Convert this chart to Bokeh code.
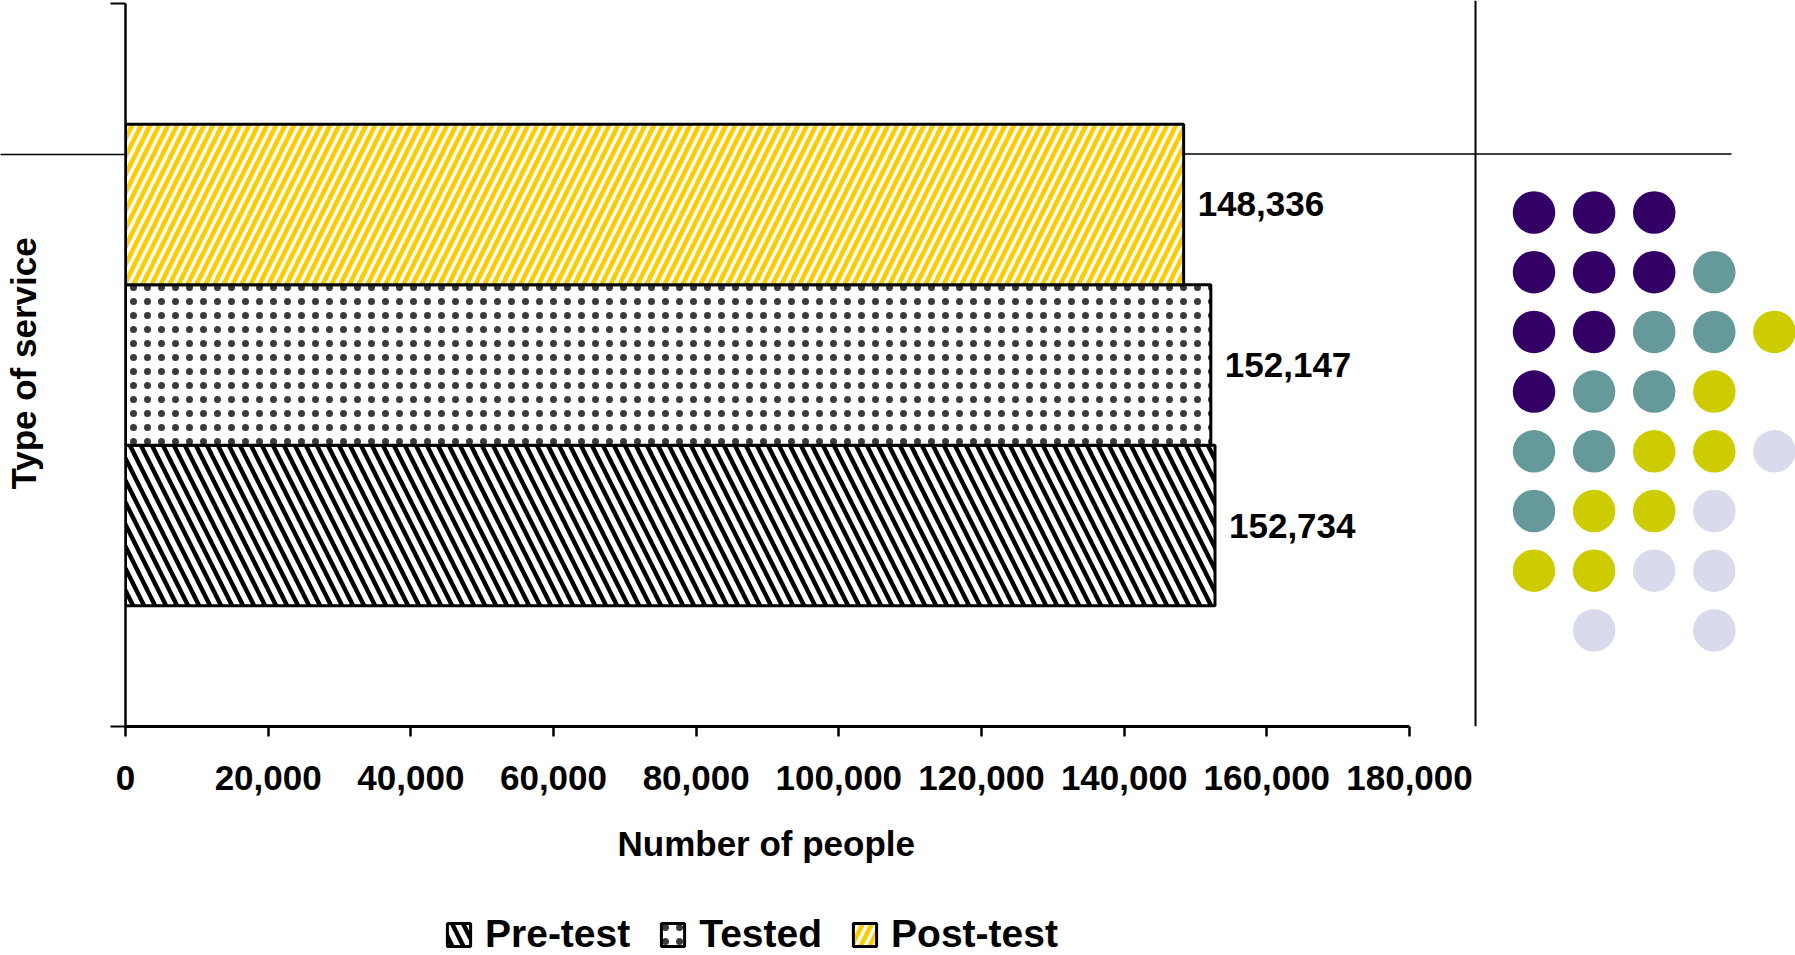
from bokeh.plotting import figure
from bokeh.layouts import column
from bokeh.models import (Range1d, FixedTicker, NumeralTickFormatter, Legend, LegendItem,
                          Span, BoxAnnotation, ColumnDataSource, Title)
from bokeh.core.properties import value
from bokeh.embed import file_html
from bokeh.resources import INLINE

# ---------------- data ----------------
series = ["Pre-test", "Tested", "Post-test"]
people = [152734, 152147, 148336]
hatch_patterns = ["\\", ".", "/"]
hatch_colors = ["#000000", "#3a3a3a", "#FFCC00"]
hatch_scales = [22, 14, 18]
hatch_weights = [4.4, 0.65, 4.6]
x_ticks = [0, 20000, 40000, 60000, 80000, 100000, 120000, 140000, 160000, 180000]

# decorative dot matrix (row, column, colour)
dot_rows = [1, 1, 1,
            2, 2, 2, 2,
            3, 3, 3, 3, 3,
            4, 4, 4, 4,
            5, 5, 5, 5, 5,
            6, 6, 6, 6,
            7, 7, 7, 7,
            8, 8]
dot_cols = [1, 2, 3,
            1, 2, 3, 4,
            1, 2, 3, 4, 5,
            1, 2, 3, 4,
            1, 2, 3, 4, 5,
            1, 2, 3, 4,
            1, 2, 3, 4,
            2, 4]
P, T, Y, L = "#330066", "#669999", "#CCCC00", "#D9DAEC"
dot_colors = [P, P, P,
              P, P, P, T,
              P, P, T, T, Y,
              P, T, T, Y,
              T, T, Y, Y, L,
              T, Y, Y, L,
              Y, Y, L, L,
              L, L]

FONT = "Liberation Sans"
W, H = 1795, 955
LEG_H = 54
MAIN_H = H - LEG_H
LEFT = 125
FRAME_H = 726
X_MAX = 180000
PX_PER_UNIT = 1284 / X_MAX
AXIS_PX = 723

def px_x(px):
    return (px - LEFT) / PX_PER_UNIT

def px_y(py):
    return (FRAME_H - py) / AXIS_PX

p = figure(width=W, height=MAIN_H, output_backend="svg", toolbar_location=None,
           x_range=Range1d(0, px_x(W)), y_range=Range1d(0, FRAME_H / AXIS_PX),
           min_border_left=LEFT, min_border_right=0, min_border_top=0,
           min_border_bottom=MAIN_H - FRAME_H)
p.outline_line_color = None
p.xgrid.visible = False
p.ygrid.visible = False
p.background_fill_color = "white"
p.border_fill_color = "white"

# decorative lines (behind bars)
hline = BoxAnnotation(left=0, right=1731, top=152.7, bottom=154.3,
                      left_units="canvas", right_units="canvas",
                      top_units="canvas", bottom_units="canvas",
                      fill_color="black", fill_alpha=1, line_color=None, level="underlay")
p.add_layout(hline)
vline = Span(location=px_x(1475), dimension="height", line_color="black",
             line_width=2, level="underlay")
p.add_layout(vline)

# bars
BAR_H = 0.222
ys = [0.5 + (i - 1) * BAR_H for i in range(len(series))]
bar_style = []
for i, name in enumerate(series):
    style = dict(fill_color="white", line_color="black", line_width=3,
                 hatch_pattern=hatch_patterns[i], hatch_color=hatch_colors[i],
                 hatch_scale=hatch_scales[i], hatch_weight=hatch_weights[i])
    bar_style.append(style)
    src = ColumnDataSource(dict(y=[ys[i]], right=[people[i]]))
    p.hbar(y="y", right="right", left=0, height=BAR_H, source=src, **style)

labels = [f"{v:,}" for v in people]
p.text(x=people, y=ys, text=labels, x_offset=14, text_baseline="middle",
       text_align="left", text_font=value(FONT), text_font_style="bold",
       text_font_size="35px", text_color="black")

# dots
DOT_X0, DOT_DX = 1533.5, 60.1
DOT_Y0, DOT_DY = 212.0, 59.7
dx = [px_x(DOT_X0 + (c - 1) * DOT_DX) for c in dot_cols]
dy = [px_y(DOT_Y0 + (r - 1) * DOT_DY) for r in dot_rows]
p.scatter(x=dx, y=dy, size=42.5, marker="circle", fill_color=dot_colors, line_color=None)

# x axis
xa = p.xaxis[0]
xa.ticker = FixedTicker(ticks=x_ticks)
xa.bounds = (0, X_MAX)
xa.formatter = NumeralTickFormatter(format="0,0")
xa.major_tick_out = 10
xa.major_tick_in = 0
xa.minor_tick_out = 0
xa.minor_tick_in = 0
xa.axis_line_width = 3
xa.axis_line_color = "black"
xa.major_tick_line_width = 2.5
xa.major_tick_line_color = "black"
xa.major_label_text_font = FONT
xa.major_label_text_font_style = "bold"
xa.major_label_text_font_size = "35px"
xa.major_label_text_color = "black"
xa.major_label_standoff = 29

# y axis (the horizontal rule continues into the margin as a long minor tick)
ya = p.yaxis[0]
ya.ticker = FixedTicker(ticks=[0, 1], minor_ticks=[px_y(153.5)])
ya.bounds = (0, 1)
ya.major_label_overrides = {0: "", 1: ""}
ya.major_tick_out = 15
ya.major_tick_in = 0
ya.minor_tick_out = LEFT
ya.minor_tick_in = 0
ya.minor_tick_line_width = 1.6
ya.minor_tick_line_color = "black"
ya.axis_line_width = 2.5
ya.axis_line_color = "black"
ya.major_tick_line_width = 2
ya.major_tick_line_color = "black"
ya.major_label_standoff = 0
ya.axis_label = "Type of service"
ya.axis_label_text_font = FONT
ya.axis_label_text_font_style = "bold"
ya.axis_label_text_font_size = "35px"
ya.axis_label_text_color = "black"
ya.axis_label_standoff = -42

xtitle = Title(text="Number of people", align="left", offset=492,
               text_font=FONT, text_font_style="bold", text_font_size="35px",
               text_color="black", standoff=58)
p.add_layout(xtitle, "below")

# legend strip underneath (hidden renderers only carry the bar styles)
q = figure(width=W, height=LEG_H, output_backend="svg", toolbar_location=None,
           x_range=Range1d(0, 1), y_range=Range1d(0, 1),
           x_axis_type=None, y_axis_type=None, min_border=0)
q.outline_line_color = None
q.xgrid.visible = False
q.ygrid.visible = False
items = []
for i, name in enumerate(series):
    src = ColumnDataSource(dict(y=[0.5], right=[people[i] / X_MAX]))
    r = q.hbar(y="y", right="right", left=0, height=0.5, source=src,
               visible=False, **bar_style[i])
    items.append(LegendItem(label=name, renderers=[r]))
legend = Legend(items=items, orientation="horizontal", location=(319, -1),
                padding=0, margin=0, spacing=28, label_standoff=12,
                glyph_width=29, glyph_height=29,
                label_text_font=FONT, label_text_font_style="bold",
                label_text_font_size="39px", label_text_baseline="middle",
                label_text_color="black", inactive_fill_alpha=0,
                border_line_color=None, background_fill_alpha=0)
q.add_layout(legend)

layout = column(p, q, spacing=0)
open("out.html", "w").write(file_html(layout, INLINE))
